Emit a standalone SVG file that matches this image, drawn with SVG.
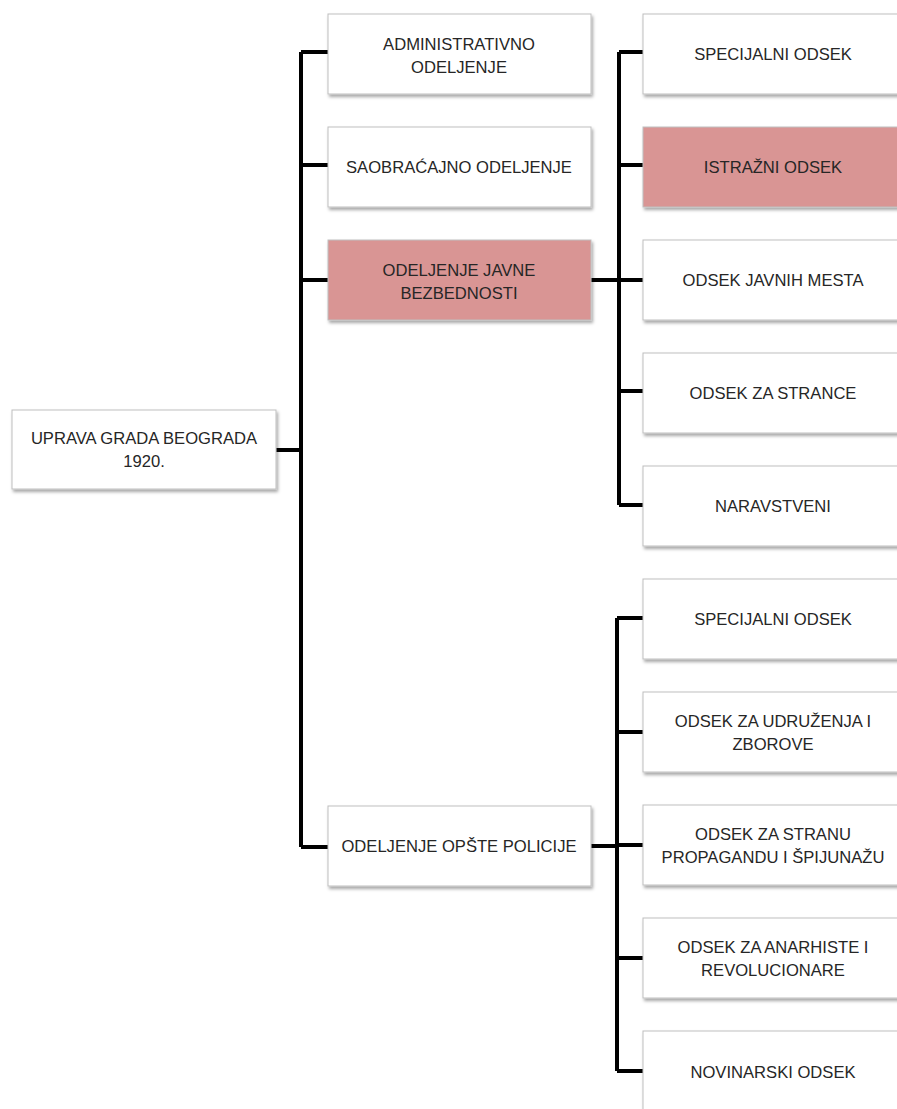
<svg xmlns="http://www.w3.org/2000/svg" width="897" height="1109" viewBox="0 0 897 1109">
<defs>
<filter id="sh" x="-10%" y="-10%" width="130%" height="140%">
<feDropShadow dx="1.5" dy="2.5" stdDeviation="1.8" flood-color="#000" flood-opacity="0.35"/>
</filter>
</defs>
<style>
.box{fill:#fff;stroke:#bfbfbf;stroke-width:1;filter:url(#sh)}
.hl{fill:#d99594}
text{font-family:"Liberation Sans",Arial,sans-serif;font-size:16.6px;fill:#262626;text-anchor:middle}
.c{fill:none;stroke:#000;stroke-width:4}
</style>
<rect width="897" height="1109" fill="#fff"/>
<g id="connectors">
<path class="c" d="M276 450H301M301 52V847M301 52H328M301 165H328M301 280H328M301 847H328"/>
<path class="c" d="M591 280H619M619 52V505M619 52H643M619 165H643M619 280H643M619 391H643M619 505H643"/>
<path class="c" d="M591 846H617M617 618V1071M617 618H643M617 732H643M617 845H643M617 958H643M617 1071H643"/>
</g>
<g id="root"><rect class="box" x="12" y="410" width="264" height="79"/><text x="144" y="444">UPRAVA GRADA BEOGRADA</text><text x="144" y="467">1920.</text></g>
<g id="admin"><rect class="box" x="328" y="14" width="263" height="80"/><text x="459" y="50">ADMINISTRATIVNO</text><text x="459" y="73">ODELJENJE</text></g>
<g id="saobr"><rect class="box" x="328" y="127" width="263" height="80"/><text x="459" y="173">SAOBRAĆAJNO ODELJENJE</text></g>
<g id="javne"><rect class="box hl" x="328" y="240" width="263" height="80"/><text x="459" y="276">ODELJENJE JAVNE</text><text x="459" y="299">BEZBEDNOSTI</text></g>
<g id="opste"><rect class="box" x="328" y="806" width="263" height="80"/><text x="459" y="852">ODELJENJE  OPŠTE POLICIJE</text></g>
<g id="spec1"><rect class="box" x="643" y="14" width="270" height="80"/><text x="773" y="60">SPECIJALNI ODSEK</text></g>
<g id="istr"><rect class="box hl" x="643" y="127" width="270" height="80"/><text x="773" y="173">ISTRAŽNI ODSEK</text></g>
<g id="javnih"><rect class="box" x="643" y="240" width="270" height="80"/><text x="773" y="286">ODSEK JAVNIH MESTA</text></g>
<g id="strance"><rect class="box" x="643" y="353" width="270" height="80"/><text x="773" y="399">ODSEK ZA STRANCE</text></g>
<g id="narav"><rect class="box" x="643" y="466" width="270" height="80"/><text x="773" y="512">NARAVSTVENI</text></g>
<g id="spec2"><rect class="box" x="643" y="579" width="270" height="80"/><text x="773" y="625">SPECIJALNI ODSEK</text></g>
<g id="udruz"><rect class="box" x="643" y="692" width="270" height="80"/><text x="773" y="727">ODSEK ZA UDRUŽENJA I</text><text x="773" y="750">ZBOROVE</text></g>
<g id="strana"><rect class="box" x="643" y="805" width="270" height="80"/><text x="773" y="840">ODSEK ZA STRANU</text><text x="773" y="863">PROPAGANDU I ŠPIJUNAŽU</text></g>
<g id="anarh"><rect class="box" x="643" y="918" width="270" height="80"/><text x="773" y="953">ODSEK ZA ANARHISTE I</text><text x="773" y="976">REVOLUCIONARE</text></g>
<g id="novin"><rect class="box" x="643" y="1031" width="270" height="80"/><text x="773" y="1078">NOVINARSKI ODSEK</text></g>
</svg>
